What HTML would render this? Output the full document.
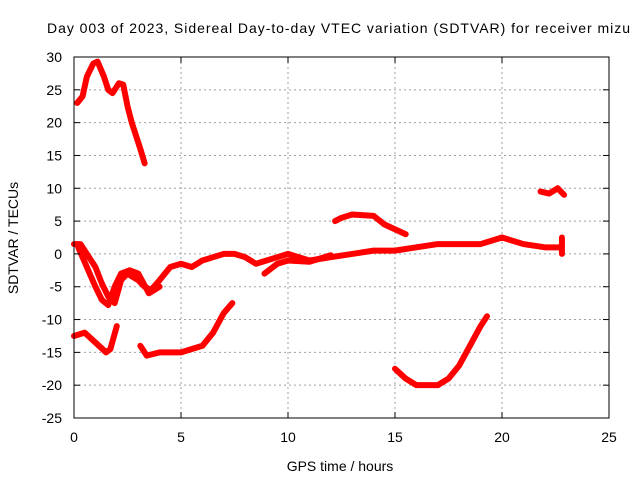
<!DOCTYPE html>
<html><head><meta charset="utf-8"><style>
body{margin:0;background:#fff}
svg{display:block;font-family:"Liberation Sans",sans-serif}
</style></head><body>
<svg id="chart" width="640" height="480" viewBox="0 0 640 480">
<rect width="640" height="480" fill="#fff"/>
<text x="47" y="33" font-size="14" textLength="583" lengthAdjust="spacing">Day 003 of 2023, Sidereal Day-to-day VTEC variation (SDTVAR) for receiver mizu</text>
<text x="340" y="471" font-size="14" text-anchor="middle">GPS time / hours</text>
<text x="18" y="238" font-size="14" text-anchor="middle" transform="rotate(-90 18 238)">SDTVAR / TECUs</text>
<g id="grid"></g><g id="series"></g><g id="axes"></g>
</svg>
<script>
const xTicks=[0,5,10,15,20,25];
const yTicks=[30,25,20,15,10,5,0,-5,-10,-15,-20,-25];
const segTop=[[0.15,23],[0.4,24],[0.6,27],[0.9,29],[1.1,29.3],[1.4,27],[1.6,25],[1.8,24.5],[2.1,26],[2.3,25.8],[2.5,22.5],[2.7,20],[2.9,18],[3.1,16],[3.3,13.8]];
const segMain=[[0,1.5],[0.3,1.5],[0.6,0],[1,-2],[1.3,-4.5],[1.6,-6.5],[1.9,-7.5],[2.2,-4],[2.5,-3],[3,-4],[3.3,-5],[3.6,-5.5],[4,-4],[4.5,-2],[5,-1.5],[5.5,-2],[6,-1],[6.5,-0.5],[7,0],[7.5,0],[8,-0.5],[8.5,-1.5],[9,-1],[9.5,-0.5],[10,0],[10.5,-0.5],[11,-1],[12,-0.5],[13,0],[14,0.5],[15,0.5],[16,1],[17,1.5],[18,1.5],[19,1.5],[20,2.5],[21,1.5],[22,1],[22.8,1]];
const segMain2=[[0.2,1],[0.6,-2],[1,-5],[1.3,-7],[1.6,-7.8],[1.9,-5],[2.2,-3],[2.6,-2.5],[3,-3],[3.5,-6],[4,-5]];
const segMain3=[[8.9,-3],[9.5,-1.5],[10,-1],[11,-1.2],[12,-0.2]];
const segMain4=[[22.8,2.5],[22.8,0]];
const segLow1=[[0,-12.5],[0.5,-12],[1,-13.5],[1.5,-15],[1.7,-14.5],[2,-11]];
const segLow2=[[3.1,-14],[3.4,-15.5],[4,-15],[5,-15],[6,-14],[6.5,-12],[7,-9],[7.4,-7.5]];
const segMid=[[12.2,5],[12.5,5.5],[13,6],[14,5.8],[14.5,4.5],[15.5,3]];
const segDip=[[15,-17.5],[15.5,-19],[16,-20],[17,-20],[17.5,-19],[18,-17],[18.5,-14],[19,-11],[19.3,-9.5]];
const segLate=[[21.8,9.5],[22.2,9.2],[22.6,10],[22.9,9]];
const X0=74,X1=609,Y0=57,Y1=418;
const sx=h=>X0+(h-0)/(25-0)*(X1-X0);
const sy=v=>Y0+(30-v)/(30+25)*(Y1-Y0);
const NS="http://www.w3.org/2000/svg";
const grid=document.getElementById('grid'),axes=document.getElementById('axes'),ser=document.getElementById('series');
function mk(t,a,p){const e=document.createElementNS(NS,t);for(const k in a)e.setAttribute(k,a[k]);p.appendChild(e);return e;}
xTicks.forEach(t=>{const x=sx(t);
 if(t>0&&t<25){const g=mk('line',{x1:x,x2:x,y1:Y0,y2:Y1,stroke:'#a0a0a0','stroke-dasharray':'2,3'},grid);
 
 }
 const l=mk('text',{x:x,y:Y1+24,'font-size':'14','text-anchor':'middle'},axes);l.textContent=t;
 
 
 mk('line',{x1:x,x2:x,y1:Y1,y2:Y1-6,stroke:'#000'},axes);mk('line',{x1:x,x2:x,y1:Y0,y2:Y0+6,stroke:'#000'},axes);});
yTicks.forEach(t=>{const y=sy(t);
 if(t>-25&&t<30){const g=mk('line',{x1:X0,x2:X1,y1:y,y2:y,stroke:'#a0a0a0','stroke-dasharray':'2,3'},grid);
 
 }
 const l=mk('text',{x:X0-12,y:y+5,'font-size':'14','text-anchor':'end'},axes);l.textContent=t;
 
 
 mk('line',{x1:X0,x2:X0+6,y1:y,y2:y,stroke:'#000'},axes);mk('line',{x1:X1,x2:X1-6,y1:y,y2:y,stroke:'#000'},axes);});
const fr=mk('rect',{x:X0,y:Y0,width:X1-X0,height:Y1-Y0,fill:'none',stroke:'#000'},axes);


[segTop,segMain,segMain2,segMain3,segMain4,segLow1,segLow2,segMid,segDip,segLate].forEach(s=>{
 const p=mk('polyline',{points:s.map(d=>sx(d[0])+','+sy(d[1])).join(' '),fill:'none',stroke:'#ff0000','stroke-width':'6','stroke-linejoin':'round','stroke-linecap':'round'},ser);
 
 
});
</script>
</body></html>
